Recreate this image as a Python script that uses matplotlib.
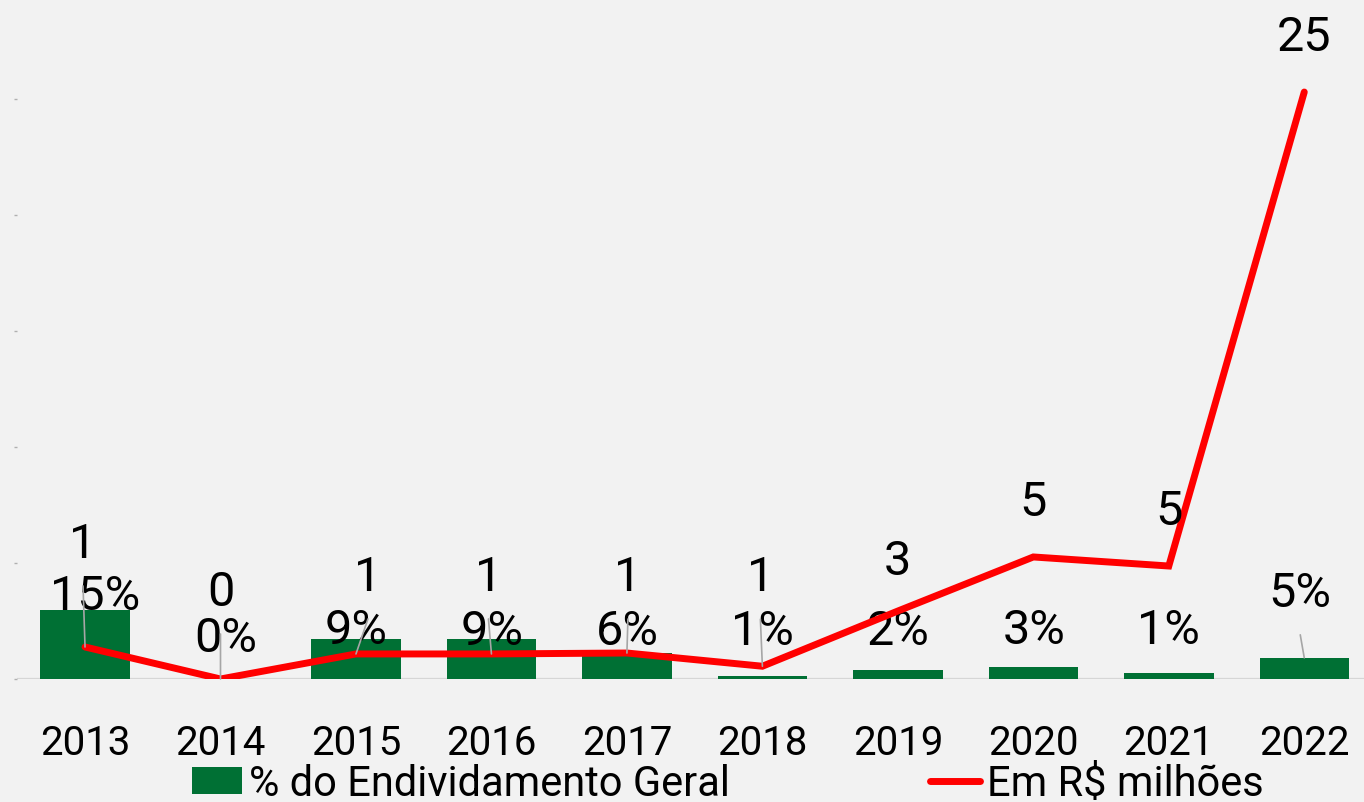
import matplotlib
matplotlib.use("Agg")
import matplotlib.pyplot as plt
from matplotlib.patches import Patch
from matplotlib.lines import Line2D

plt.rcParams['font.family'] = ['Roboto', 'DejaVu Sans']

# ---- data ----
years = ['2013', '2014', '2015', '2016', '2017', '2018', '2019', '2020', '2021', '2022']
pct_endividamento = [0.150, 0.000, 0.086, 0.087, 0.057, 0.007, 0.019, 0.026, 0.013, 0.046]
em_milhoes = [1.38, 0.0, 1.08, 1.08, 1.12, 0.55, 2.93, 5.26, 4.87, 25.3]
bar_name = '% do Endividamento Geral'
line_name = 'Em R$ milhões'

# ---- style ----
BG = '#f2f2f2'
GREEN = '#007034'
RED = '#ff0000'
LEADER = '#a6a6a6'
# label offsets (pixels) from the data point: (dx, dy)
line_lbl_off = [(-2, 103), (0, 87), (12, 77), (-3, 77), (1, 76), (-2, 89), (0, 50), (0, 55), (0, 55), (0, 55)]
bar_lbl_off = [(10, 14), (5, 41), (0, 9), (1, 8), (0, 22), (0, 45), (0, 39), (1, 37), (0, 43), (-4, 65)]
line_leader = [True, True, True, True, True, True, False, False, False, False]
bar_leader = [False] * 9 + [True]
LEADER_GAP = 42

fig = plt.figure(figsize=(13.64, 8.03), dpi=100)
fig.patch.set_facecolor(BG)
ax = fig.add_axes([17.3 / 1364, 123 / 803, (1372 - 17.3) / 1364, 680 / 803])
ax.set_facecolor('none')
x = list(range(len(years)))

ax.bar(x, pct_endividamento, width=0.66, color=GREEN, zorder=2)
ax.set_ylim(0, 1.478)
ax.set_xlim(-0.5, len(years) - 0.5)
ax.set_yticks([])

ax2 = ax.twinx()
ax2.plot(x, em_milhoes, color=RED, lw=5.0, solid_joinstyle='miter', solid_capstyle='round', zorder=3)
ax2.set_ylim(0, 29.31)
ax2.set_yticks([0, 5, 10, 15, 20, 25])
ax2.yaxis.tick_left()
ax2.tick_params(axis='y', length=2.5, width=1, color='#b0b0b0', labelleft=False, labelright=False)

for a in (ax, ax2):
    for s in a.spines.values():
        s.set_visible(False)
ax.axhline(0, color='#d6d6d6', lw=1.6, zorder=1)

ax.set_xticks(x)
ax.set_xticklabels(years, fontsize=29)
ax.tick_params(axis='x', length=0, pad=32)

# line labels
for i, v in enumerate(em_milhoes):
    dx, dy = line_lbl_off[i]
    ax2.annotate(f"{v:.0f}", xy=(i, v), xytext=(dx, dy), textcoords='offset pixels',
                 ha='center', va='center', fontsize=35, color='black', zorder=5)
    if line_leader[i]:
        ax2.annotate('', xy=(i, v), xytext=(dx, dy - LEADER_GAP), textcoords='offset pixels',
                     arrowprops=dict(arrowstyle='-', color=LEADER, lw=1.2, shrinkA=0, shrinkB=0),
                     zorder=6)

# bar labels
for i, v in enumerate(pct_endividamento):
    dx, dy = bar_lbl_off[i]
    ax.annotate(f"{v:.0%}", xy=(i, v), xytext=(dx, dy), textcoords='offset pixels',
                ha='center', va='center', fontsize=35, color='black', zorder=5,
                annotation_clip=False)
    if bar_leader[i]:
        ax.annotate('', xy=(i, v), xytext=(dx, dy - LEADER_GAP), textcoords='offset pixels',
                    arrowprops=dict(arrowstyle='-', color=LEADER, lw=1.2, shrinkA=0, shrinkB=0))

handles = [Patch(facecolor=GREEN, edgecolor='none', label=bar_name),
           Line2D([0], [0], color=RED, lw=5.0, solid_capstyle='round', label=line_name)]
fig.legend(handles=handles, loc='lower left', bbox_to_anchor=(192 / 1364, -2 / 803),
           ncol=2, frameon=False, fontsize=30, handlelength=1.2, handleheight=0.6,
           handletextpad=0.17, columnspacing=4.8, borderaxespad=0, borderpad=0)

fig.savefig('out.png', dpi=100, facecolor=BG)
